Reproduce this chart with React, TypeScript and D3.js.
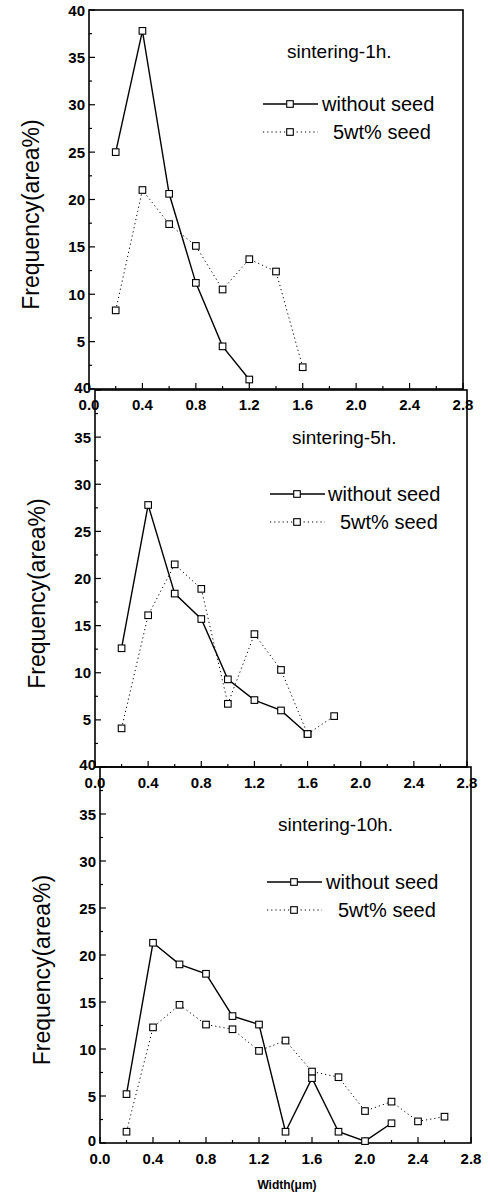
import React from 'react';
import * as d3 from 'd3';

// bin centres (µm) on the x axis
const widthBins = [0.2, 0.4, 0.6, 0.8, 1.0, 1.2, 1.4, 1.6, 1.8, 2.0, 2.2, 2.4, 2.6];

const panelTitles = ['sintering-1h.', 'sintering-5h.', 'sintering-10h.'];
const seriesNames = ['without seed', '5wt% seed'];

const noSeed1h = [25.0, 37.8, 20.6, 11.2, 4.5, 1.0];
const seed1h = [8.3, 21.0, 17.4, 15.1, 10.5, 13.7, 12.4, 2.3];

const noSeed5h = [12.6, 27.8, 18.4, 15.7, 9.3, 7.1, 6.0, 3.5];
const seed5h = [4.1, 16.1, 21.5, 18.9, 6.7, 14.1, 10.3, 3.5, 5.4];

const noSeed10h = [5.2, 21.3, 19.0, 18.0, 13.5, 12.6, 1.2, 6.9, 1.2, 0.2, 2.1];
const seed10h = [1.2, 12.3, 14.7, 12.6, 12.1, 9.8, 10.9, 7.6, 7.0, 3.4, 4.4, 2.3, 2.8];

const xTicks = [0, 0.4, 0.8, 1.2, 1.6, 2.0, 2.4, 2.8];
const yTicks = [5, 10, 15, 20, 25, 30, 35, 40];

const font = 'Liberation Sans, Arial, sans-serif';

// page layout of the three stacked boxes (scanned figure is slightly skewed)
const layout = [
  { x0: 89, x1: 463, y0: 10, y1: 389, tx: 287, ty: 58, lx: 263, ly: 104, lt: 322, lt2: 333 },
  { x0: 95, x1: 467, y0: 390, y1: 767, tx: 292, ty: 444, lx: 270, ly: 494, lt: 328, lt2: 340 },
  { x0: 100, x1: 471, y0: 767, y1: 1143, tx: 278, ty: 831, lx: 267, ly: 882, lt: 326, lt2: 338 },
];

const panelData = [
  [noSeed1h, seed1h],
  [noSeed5h, seed5h],
  [noSeed10h, seed10h],
];

const Marker = ({ cx, cy }: { cx: number; cy: number }) => (
  <rect x={cx - 3.3} y={cy - 3.3} width={6.6} height={6.6} fill="#fff" stroke="#000" strokeWidth={1.1} />
);

const Panel = ({ idx }: { idx: number }) => {
  const L = layout[idx];
  const x = d3.scaleLinear().domain([0, 2.8]).range([L.x0, L.x1]);
  const y = d3.scaleLinear().domain([0, 40]).range([L.y1, L.y0]);
  const [solid, dotted] = panelData[idx];

  const line = d3.line<number>()
    .x((d, i) => x(widthBins[i]))
    .y(d => y(d));

  const minorX = d3.range(0, 2.81, 0.2);
  const minorY = d3.range(0, 40.1, 2.5);
  const showZero = idx === 2;

  // labels sitting on a box boundary are nudged up so they clear the x labels
  const yOff = (v: number) => (v === 0 || (v === 40 && idx > 0) ? 2.5 : 5.5);

  return (
    <g>
      {/* frame */}
      <rect x={L.x0} y={L.y0} width={L.x1 - L.x0} height={L.y1 - L.y0} fill="none" stroke="#000" strokeWidth={1.6} />

      {/* x ticks */}
      {minorX.map((v, i) => (
        <line key={'mx' + i} x1={x(v)} x2={x(v)} y1={L.y1} y2={L.y1 - (i % 2 === 0 ? 6 : 3)} stroke="#000" strokeWidth={1.2} />
      ))}
      {xTicks.map(v => (
        <text key={'xl' + v} x={x(v)} y={L.y1 + 21} textAnchor="middle" fontFamily={font} fontSize={15} fontWeight="bold">
          {v.toFixed(1)}
        </text>
      ))}

      {/* y ticks */}
      {minorY.map((v, i) => (
        <line key={'my' + i} x1={L.x0} x2={L.x0 + (i % 2 === 0 ? 6 : 3)} y1={y(v)} y2={y(v)} stroke="#000" strokeWidth={1.2} />
      ))}
      {(showZero ? [0, ...yTicks] : yTicks).map(v => (
        <text key={'yl' + v} x={L.x0 - 4} y={y(v) + yOff(v)} textAnchor="end" fontFamily={font} fontSize={15} fontWeight="bold">
          {v}
        </text>
      ))}

      <text
        transform={`translate(${L.x0 - 50},${(L.y0 + L.y1) / 2 + 15}) rotate(-90)`}
        textAnchor="middle"
        fontFamily={font}
        fontSize={23}
      >
        Frequency(area%)
      </text>

      {/* series */}
      <path d={line(solid) || ''} fill="none" stroke="#000" strokeWidth={1.4} />
      <path d={line(dotted) || ''} fill="none" stroke="#000" strokeWidth={1} strokeDasharray="1.2,3" />
      {solid.map((v, i) => <Marker key={'s' + i} cx={x(widthBins[i])} cy={y(v)} />)}
      {dotted.map((v, i) => <Marker key={'d' + i} cx={x(widthBins[i])} cy={y(v)} />)}

      {/* title + legend */}
      <text x={L.tx} y={L.ty} fontFamily={font} fontSize={19}>{panelTitles[idx]}</text>
      <line x1={L.lx} x2={L.lx + 55} y1={L.ly} y2={L.ly} stroke="#000" strokeWidth={1.4} />
      <Marker cx={L.lx + 27} cy={L.ly} />
      <text x={L.lt} y={L.ly + 7} fontFamily={font} fontSize={20}>{seriesNames[0]}</text>
      <line x1={L.lx} x2={L.lx + 55} y1={L.ly + 28} y2={L.ly + 28} stroke="#000" strokeWidth={1} strokeDasharray="1.2,3" />
      <Marker cx={L.lx + 27} cy={L.ly + 28} />
      <text x={L.lt2} y={L.ly + 35} fontFamily={font} fontSize={20}>{seriesNames[1]}</text>
    </g>
  );
};

export default function App() {
  return (
    <svg width={490} height={1195} style={{ position: 'absolute', left: 0, top: 0, background: '#fff' }}>
      <rect width={490} height={1195} fill="#fff" />
      {[0, 1, 2].map(i => <Panel key={i} idx={i} />)}
      <text x={287} y={1189} textAnchor="middle" fontFamily={font} fontSize={12} fontWeight="bold">
        Width(μm)
      </text>
    </svg>
  );
}
